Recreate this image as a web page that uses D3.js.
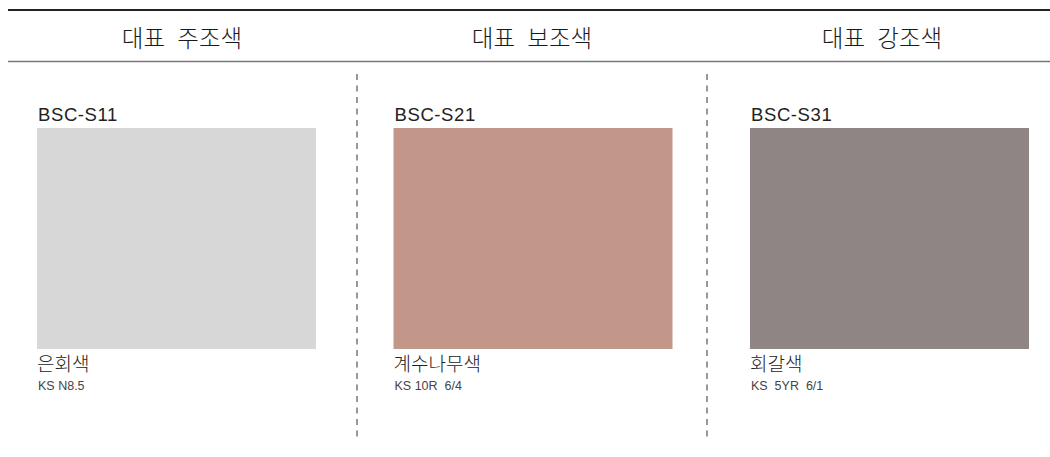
<!DOCTYPE html>
<html>
<head>
<meta charset="utf-8">
<script src="https://cdn.jsdelivr.net/npm/d3@7"></script>
<style>
  html, body { margin: 0; padding: 0; background: #fff; }
  svg { display: block; }
</style>
</head>
<body>
<svg id="chart" width="1050" height="457"></svg>
<script>
// ---- data ----
const headers = ["대표 주조색", "대표 보조색", "대표 강조색"];
const codes = ["BSC-S11", "BSC-S21", "BSC-S31"];
const names = ["은회색", "계수나무색", "회갈색"];
const ksCodes = ["KS N8.5", "KS 10R  6/4", "KS  5YR  6/1"];
const swatchColors = ["#d7d7d7", "#c29789", "#908585"];

// ---- layout ----
const W = 1050, H = 457;
const svg = d3.select("#chart");

const colX = d3.scaleBand().domain(headers).range([7, 1057]).padding(0);
const swX = d3.scaleBand().domain(codes).range([37, 1029]).paddingInner(1 - 279 / 356.5).paddingOuter(0);
const swTop = 128, swBottom = 349;

// header rules
svg.append("line").attr("x1", 8).attr("x2", W).attr("y1", 10).attr("y2", 10)
  .attr("stroke", "#222").attr("stroke-width", 2.2);
svg.append("line").attr("x1", 8).attr("x2", W).attr("y1", 61.5).attr("y2", 61.5)
  .attr("stroke", "#777").attr("stroke-width", 1.4);

// headers
svg.selectAll("text.hdr").data(headers).join("text")
  .attr("class", "hdr")
  .attr("x", d => colX(d) + colX.bandwidth() / 2)
  .attr("y", 47)
  .attr("text-anchor", "middle")
  .attr("font-family", "'Noto Sans CJK KR', sans-serif")
  .attr("font-size", 23.5)
  .attr("font-weight", 300)
  .attr("word-spacing", 7)
  .attr("fill", "#1a1a1a")
  .text(d => d);

// dashed dividers
svg.selectAll("line.div").data(headers.slice(1)).join("line")
  .attr("class", "div")
  .attr("x1", d => colX(d)).attr("x2", d => colX(d))
  .attr("y1", 74).attr("y2", 438)
  .attr("stroke", "#777").attr("stroke-width", 1.5)
  .attr("stroke-dasharray", "6 5.5");

// swatches
const g = svg.selectAll("g.sw").data(codes).join("g").attr("class", "sw");
g.append("rect")
  .attr("x", d => swX(d)).attr("y", swTop)
  .attr("width", swX.bandwidth()).attr("height", swBottom - swTop)
  .attr("fill", (d, i) => swatchColors[i]);
g.append("text")
  .attr("x", d => swX(d) + 1).attr("y", 121)
  .attr("font-family", "'Liberation Sans', Arial, sans-serif")
  .attr("font-size", 18.5)
  .attr("letter-spacing", 0.6)
  .attr("fill", "#222")
  .text(d => d);
g.append("text")
  .attr("x", d => swX(d)).attr("y", 371)
  .attr("font-family", "'Noto Sans CJK KR', sans-serif")
  .attr("font-size", 19)
  .attr("font-weight", 300)
  .attr("fill", "#222")
  .text((d, i) => names[i]);
g.append("text")
  .attr("x", d => swX(d) + 1).attr("y", 390)
  .attr("font-family", "'Liberation Sans', Arial, sans-serif")
  .attr("font-size", 12.5)
  .attr("fill", "#444")
  .style("white-space", "pre")
  .text((d, i) => ksCodes[i]);
</script>
</body>
</html>
